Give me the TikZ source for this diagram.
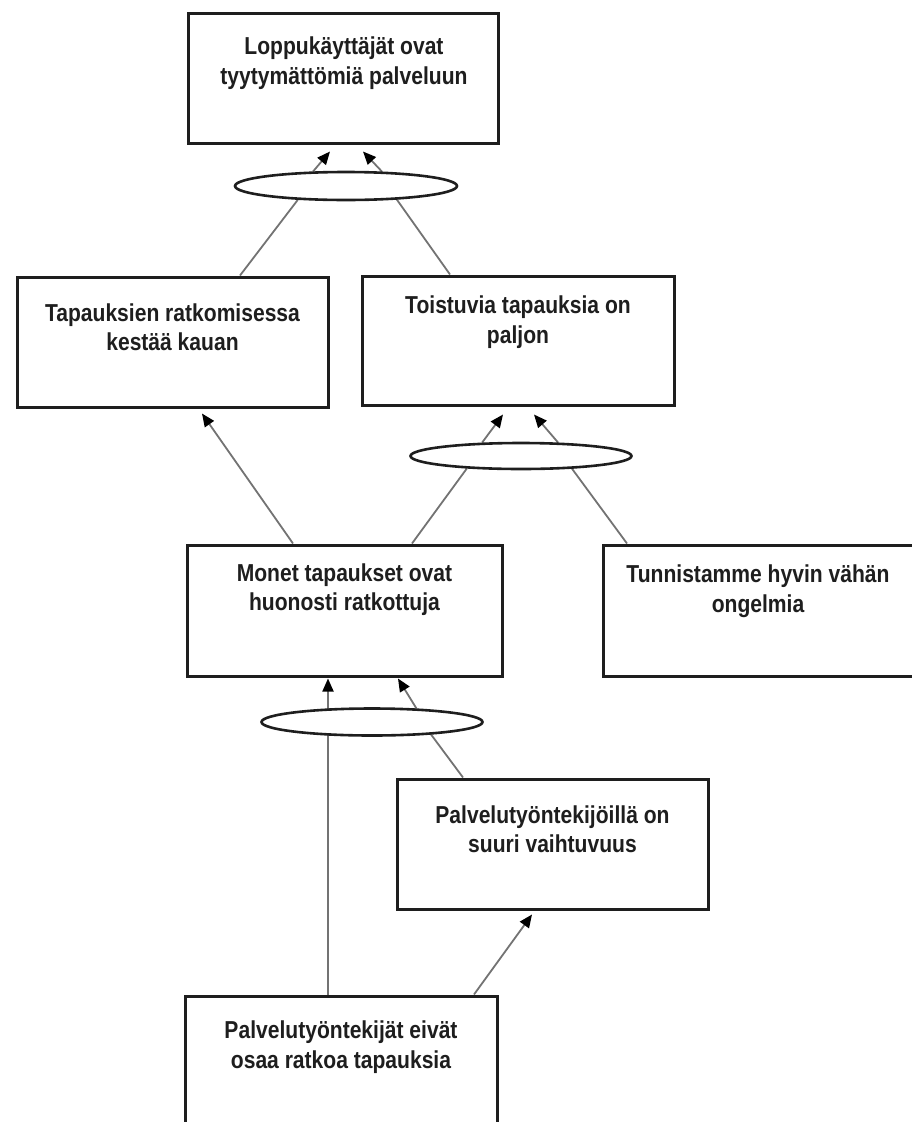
\documentclass[tikz,border=0pt]{standalone}
\usepackage{fontspec}
\setmainfont{Liberation Sans}
\newfontfamily\labfont{Liberation Sans}[FakeStretch=0.86]
\usetikzlibrary{shapes.geometric,arrows.meta,backgrounds}
\definecolor{lnk}{RGB}{115,115,115}
\definecolor{ink}{RGB}{30,30,30}
\begin{document}
\begin{tikzpicture}[x=1pt,y=-1pt,
  box/.style={draw=ink, line width=3pt, fill=white, rectangle, inner sep=0pt},
  lab/.style={align=center, font=\labfont\bfseries\fontsize{24.5}{29.5}\selectfont, text=ink, inner sep=0pt},
  oval/.style={draw=ink, line width=2.6pt, fill=white, ellipse, inner sep=0pt},
  conn/.style={draw=lnk, line width=1.8pt},
  arr/.style={conn, -{Triangle[length=13pt,width=11pt,color=black]}}
]
\clip (0,0) rectangle (912,1122);

% boxes
\node[box, minimum width=310pt, minimum height=130pt] (top) at (343,78) {};
\node[lab] (topt) at (344,63) {Loppukäyttäjät ovat\\tyytymättömiä palveluun};
\node[box, minimum width=311pt, minimum height=130pt] (tap) at (172.5,342) {};
\node[lab] (tapt) at (172.5,327) {Tapauksien ratkomisessa\\kestää kauan};
\node[box, minimum width=312pt, minimum height=129pt] (toi) at (518,340.5) {};
\node[lab] (toit) at (518,322) {Toistuvia tapauksia on\\paljon};
\node[box, minimum width=315pt, minimum height=131pt] (mon) at (344.5,610.5) {};
\node[lab] (mont) at (344.5,589.5) {Monet tapaukset ovat\\huonosti ratkottuja};
\node[box, minimum width=310pt, minimum height=131pt] (tun) at (758,610.5) {};
\node[lab] (tunt) at (758,591) {Tunnistamme hyvin vähän\\ongelmia};
\node[box, minimum width=311pt, minimum height=130pt] (pal) at (552.5,844) {};
\node[lab] (palt) at (552.5,829) {Palvelutyöntekijöillä on\\suuri vaihtuvuus};
\node[box, minimum width=312pt, minimum height=130pt] (bot) at (341,1061) {};
\node[lab] (bott) at (341,1047) {Palvelutyöntekijät eivät\\osaa ratkoa tapauksia};

% ovals
\node[oval, minimum width=222pt, minimum height=28pt] (e1) at (346,186) {};
\node[oval, minimum width=221pt, minimum height=26pt] (e2) at (521,456) {};
\node[oval, minimum width=221pt, minimum height=27pt] (e3) at (372,722) {};

\coordinate (vb) at ([xshift=-13pt]bot.north);
\coordinate (vt) at ([xshift=-16.5pt,yshift=-1pt]mon.south);

\begin{pgfonlayer}{background}
\draw[conn] ([xshift=67.5pt]tap.north) -- (e1.196);
\draw[conn] ([xshift=-68pt]toi.north) -- (e1.345);
\draw[arr] (e1.156) -- ([xshift=-13pt,yshift=-7pt]top.south);
\draw[arr] (e1.22) -- ([xshift=20pt,yshift=-7pt]top.south);

\draw[arr] (e2.161) -- ([xshift=-15pt,yshift=-8pt]toi.south);
\draw[arr] (e2.20) -- ([xshift=16pt,yshift=-8pt]toi.south);
\draw[conn] ([xshift=67.5pt]mon.north) -- (e2.193);
\draw[conn] ([xshift=-131pt]tun.north) -- (e2.346);

\draw[arr] ([xshift=-51.5pt]mon.north) -- ([xshift=29.5pt,yshift=-5pt]tap.south);

\draw[conn] (vb) -- (vb |- e3.center);
\draw[arr] (vt |- e3.center) -- (vt);
\draw[conn] ([xshift=-89.5pt]pal.north) -- (e3.348);
\draw[arr] (e3.17) -- ([xshift=53.5pt,yshift=-1pt]mon.south);

\draw[arr] ([xshift=133pt]bot.north) -- ([xshift=-20.5pt,yshift=-4pt]pal.south);
\end{pgfonlayer}
\end{tikzpicture}
\end{document}
